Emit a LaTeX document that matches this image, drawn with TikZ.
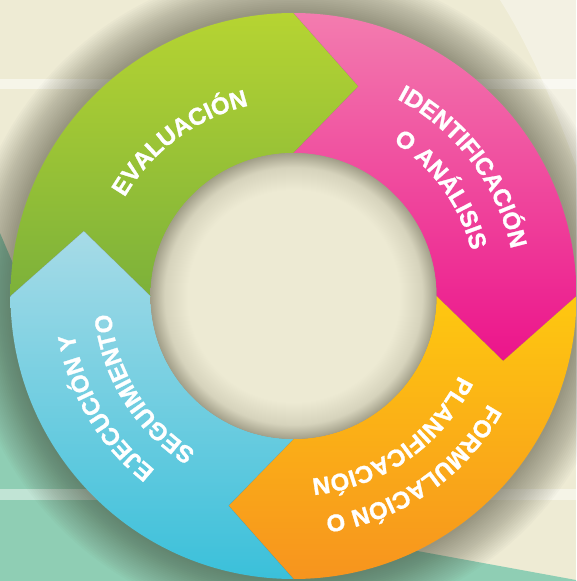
\documentclass[tikz,border=0pt]{standalone}
\usepackage{fontspec}
\newfontfamily\labfont[BoldFeatures={FakeBold=1.2}]{Liberation Sans}
\usetikzlibrary{decorations.text}
\definecolor{bgcream}{RGB}{238,235,212}
\definecolor{teal}{RGB}{143,206,180}
\definecolor{shadowc}{RGB}{62,60,42}
\definecolor{holec}{RGB}{237,234,211}
\definecolor{holem}{RGB}{214,211,188}
\definecolor{holer}{RGB}{162,159,137}
\definecolor{greenT}{RGB}{182,212,50}
\definecolor{greenB}{RGB}{124,177,58}
\definecolor{pinkT}{RGB}{243,124,175}
\definecolor{pinkB}{RGB}{236,20,139}
\definecolor{orangeT}{RGB}{254,200,16}
\definecolor{orangeB}{RGB}{247,148,30}
\definecolor{blueT}{RGB}{167,219,231}
\definecolor{blueB}{RGB}{58,192,218}
\pgfdeclareradialshading{holeshade}{\pgfpoint{0bp}{0bp}}{color(0bp)=(holec); color(18.5bp)=(holec); color(22.5bp)=(holem); color(25bp)=(holer); color(50bp)=(holer)}
\newcommand\lf{\labfont\bfseries\fontsize{24pt}{28pt}\selectfont}
\newcommand\arclabel[3]{%
  \path[decorate, decoration={text along path, text align=center, text color=white, text={|\lf|#3}}]
    (#2+70:#1) arc[start angle=#2+70, end angle=#2-70, radius=#1];}
\tikzset{
  seg/.style={draw=black!60, draw opacity=0.25, line width=0.3pt},
}
\begin{document}
\begin{tikzpicture}[x=1pt,y=1pt]
\def\Ro{283}
\def\Ri{143}
\def\Rt{219.5}
\def\Dt{17.2}
\useasboundingbox (-293.5,-285) rectangle (282.5,296);
% background
\fill[bgcream] (-293.5,-285) rectangle (282.5,296);
% top-right highlight
\fill[white, opacity=0.35] (206.5,296) .. controls (232,256) and (258,200) .. (282.5,130) -- (282.5,296) -- cycle;
% teal area
\fill[teal] (-293.5,63) -- (-273.5,16) -- (6.5,-233.5) -- (282.5,-284) -- (282.5,-285) -- (-293.5,-285) -- cycle;
% stripes
\fill[white, opacity=0.5] (-293.5,207) rectangle (282.5,217);
\fill[white, opacity=0.45] (-293.5,-204) rectangle (282.5,-193);
% outer shadow
\foreach \i in {1,...,24}{
  \fill[shadowc, opacity=0.025] (0,0) circle[radius=\Ro+0.5+1.9*\i];
}
% segments
\shade[top color=greenT, bottom color=greenB]
  (180:\Ro) arc[start angle=180, end angle=90, radius=\Ro] -- (90-\Dt:\Rt) -- (90:\Ri)
  arc[start angle=90, end angle=180, radius=\Ri] -- (180-\Dt:\Rt) -- cycle;
\shade[top color=pinkT, bottom color=pinkB]
  (90:\Ro) arc[start angle=90, end angle=0, radius=\Ro] -- (0-\Dt:\Rt) -- (0:\Ri)
  arc[start angle=0, end angle=90, radius=\Ri] -- (90-\Dt:\Rt) -- cycle;
\shade[top color=orangeT, bottom color=orangeB]
  (0:\Ro) arc[start angle=0, end angle=-90, radius=\Ro] -- (-90-\Dt:\Rt) -- (-90:\Ri)
  arc[start angle=-90, end angle=0, radius=\Ri] -- (0-\Dt:\Rt) -- cycle;
\shade[top color=blueT, bottom color=blueB]
  (270:\Ro) arc[start angle=270, end angle=180, radius=\Ro] -- (180-\Dt:\Rt) -- (180:\Ri)
  arc[start angle=180, end angle=270, radius=\Ri] -- (270-\Dt:\Rt) -- cycle;
% chevron edges
\foreach \b in {90,0,-90,180}{
  \draw[seg] (\b:\Ro) -- (\b-\Dt:\Rt) -- (\b:\Ri);
}
% hole
\shade[shading=holeshade] (0,0) circle[radius=\Ri];
% labels
\arclabel{195.5}{126.5}{EVALUACIÓN}
\arclabel{222.5}{37.2}{IDENTIFICACIÓN}
\arclabel{183.5}{35.7}{O ANÁLISIS}
\arclabel{222.5}{-55.4}{FORMULACIÓN O}
\arclabel{183.5}{-55}{PLANIFICACIÓN}
\arclabel{222.5}{210.6}{EJECUCIÓN Y}
\arclabel{183.5}{211.7}{SEGUIMIENTO}
\end{tikzpicture}
\end{document}
